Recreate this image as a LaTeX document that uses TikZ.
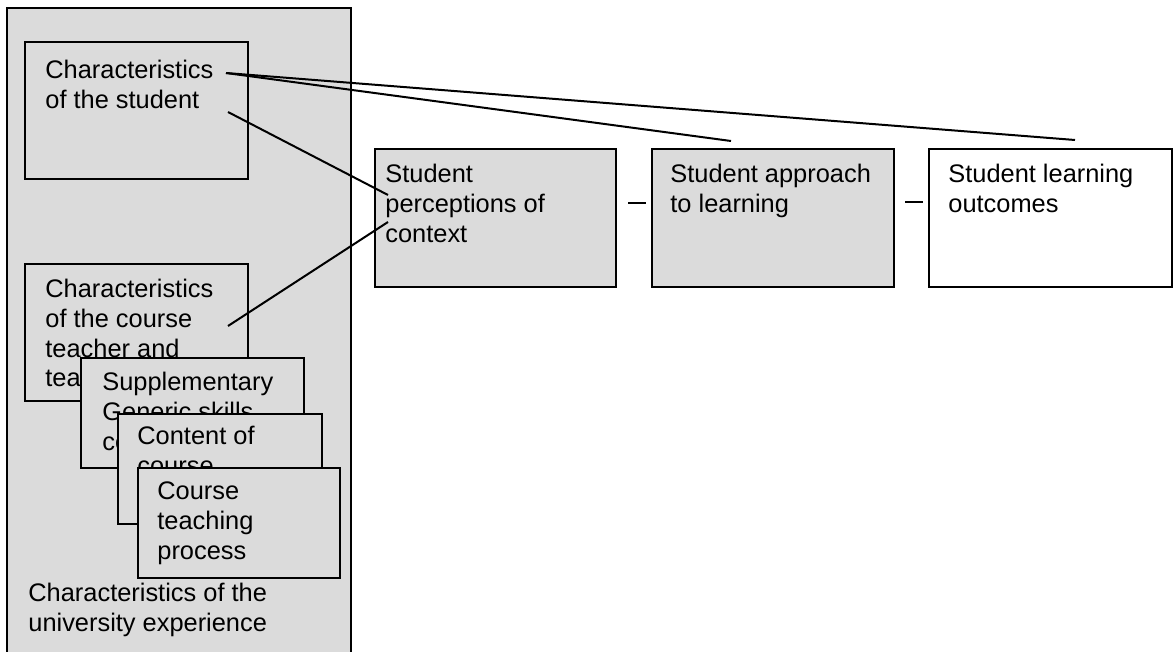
\documentclass[tikz,border=0pt]{standalone}
\usepackage{fontspec}
\setmainfont{Liberation Sans}
\usetikzlibrary{calc,positioning}
\definecolor{scangray}{gray}{0.86}
\tikzset{
	framebox/.style={draw,line width=1pt,fill=scangray,anchor=north west,inner sep=0pt},
	plainbox/.style={framebox,fill=white},
	boxtext/.style={anchor=base west,align=left,inner sep=0pt,font=\fontsize{12.7pt}{14.8pt}\selectfont},
	link/.style={line width=1pt},
}
\begin{document}
\begin{tikzpicture}[x=0.5pt,y=-0.5pt]
\useasboundingbox (0,0) rectangle (1175,652);
% university experience frame (text placed by its last baseline)
\node (univ) at (6,7) [framebox,minimum width=172pt,minimum height=330pt] {};
\node (univtext) at (28,631.6) [boxtext] {Characteristics of the\\university experience};
\node (student) at (24,41) [framebox,minimum width=111.5pt,minimum height=68.5pt] {};
\node (studenttext) at (45,108.6) [boxtext] {Characteristics\\of the student};
\node (course) at (24,263) [framebox,minimum width=111.5pt,minimum height=68.5pt] {};
\node (coursetext) at (45,386.8) [boxtext] {Characteristics\\of the course\\teacher and\\teaching};
\node (supp) at (80,357) [framebox,minimum width=111.5pt,minimum height=55pt] {};
\node (supptext) at (102,450.2) [boxtext] {Supplementary\\Generic skills\\courses};
\node (content) at (117,413) [framebox,minimum width=102pt,minimum height=55pt] {};
\node (contenttext) at (137,474.6) [boxtext] {Content of\\course};
\node (teaching) at (137,467) [framebox,minimum width=101pt,minimum height=55pt] {};
\node (teachingtext) at (157,559.2) [boxtext] {Course\\teaching\\process};
% student side
\node (perceptions) at (374,148) [framebox,minimum width=120.5pt,minimum height=69pt] {};
\node (perceptionstext) at (385,242.2) [boxtext] {Student\\perceptions of\\context};
\node (approach) at (651,148) [framebox,minimum width=121pt,minimum height=69pt] {};
\node (approachtext) at (670,212.6) [boxtext] {Student approach\\to learning};
\node (outcomes) at (928,148) [plainbox,minimum width=121.5pt,minimum height=69pt] {};
\node (outcomestext) at (948,212.6) [boxtext] {Student learning\\outcomes};
% links
\draw[link] ($(student.north west)+(202,32)$) -- ($(approach.north west)+(80,-7)$);
\draw[link] ($(student.north west)+(202,32)$) -- ($(outcomes.north west)+(147,-8)$);
\draw[link] ($(student.north west)+(204,71)$) -- ($(perceptions.north west)+(14,47)$);
\draw[link] ($(course.north west)+(204,63)$) -- ($(perceptions.north west)+(14,74)$);
\draw[link] ($(perceptions.north east)+(11,55)$) -- ($(approach.north west)+(-5,55)$);
\draw[link] ($(approach.north east)+(10,54)$) -- ($(outcomes.north west)+(-5,54)$);
\end{tikzpicture}
\end{document}
